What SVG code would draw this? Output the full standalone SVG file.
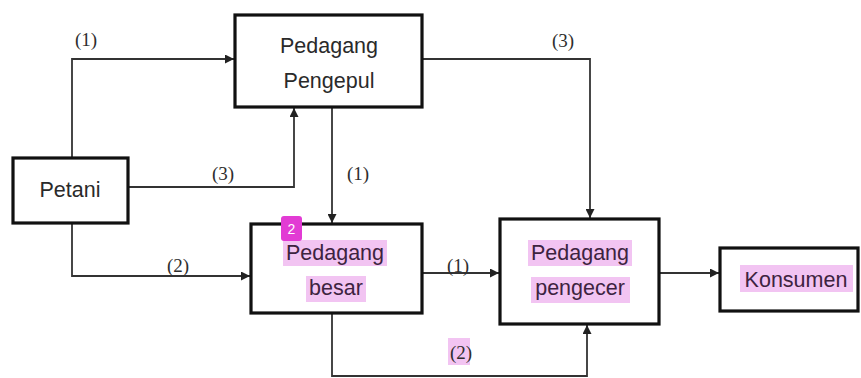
<svg xmlns="http://www.w3.org/2000/svg" width="861" height="378" viewBox="0 0 861 378">
  <style>
    .box { fill: #ffffff; stroke: #111111; stroke-width: 3.2; }
    .name { font-family: "Liberation Sans", Arial, sans-serif; font-size: 21.5px; fill: #2a2a2a; text-anchor: middle; }
    .hl-name { fill: #3d2340; }
    .hl { fill: #f2c4f2; }
    .wire { fill: none; stroke: #333333; stroke-width: 1.8; }
    .tag { font-family: "Liberation Serif", "Times New Roman", serif; font-size: 19px; fill: #2e2e2e; text-anchor: middle; }
    .badge { fill: #e23bd4; }
    .badge-text { font-family: "Liberation Sans", Arial, sans-serif; font-size: 14px; fill: #ffffff; text-anchor: middle; }
  </style>
  <defs>
    <marker id="arrow" viewBox="0 0 10 10" refX="10" refY="5" markerWidth="9" markerHeight="9" markerUnits="userSpaceOnUse" orient="auto">
      <path d="M0,0 L10,5 L0,10 z" fill="#222222"/>
    </marker>
  </defs>

  <rect width="861" height="378" fill="#ffffff"/>

  <!-- connectors -->
  <g id="connectors">
    <path class="wire" d="M72,158 V59 H234" marker-end="url(#arrow)"/>
    <path class="wire" d="M128,187 H294 V108" marker-end="url(#arrow)"/>
    <path class="wire" d="M332,107 V223" marker-end="url(#arrow)"/>
    <path class="wire" d="M422,59 H590 V218" marker-end="url(#arrow)"/>
    <path class="wire" d="M72,223 V276 H250" marker-end="url(#arrow)"/>
    <path class="wire" d="M422,273 H499" marker-end="url(#arrow)"/>
    <path class="wire" d="M332,313 V376 H587 V325" marker-end="url(#arrow)"/>
    <path class="wire" d="M659,273 H719" marker-end="url(#arrow)"/>

    <text class="tag" x="86" y="46">(1)</text>
    <text class="tag" x="223" y="180">(3)</text>
    <text class="tag" x="358" y="180">(1)</text>
    <text class="tag" x="563" y="47">(3)</text>
    <text class="tag" x="178" y="272">(2)</text>
    <text class="tag" x="458" y="272">(1)</text>
    <rect class="hl" x="448" y="338" width="22" height="27"/>
    <text class="tag" x="461" y="359">(2)</text>
  </g>

  <!-- nodes -->
  <g id="petani">
    <rect class="box" x="13" y="158" width="115" height="65"/>
    <text class="name" x="70" y="197">Petani</text>
  </g>

  <g id="pedagang-pengepul">
    <rect class="box" x="235" y="15" width="187" height="92"/>
    <text class="name" x="329" y="53">Pedagang</text>
    <text class="name" x="329" y="88">Pengepul</text>
  </g>

  <g id="pedagang-besar">
    <rect class="box" x="251" y="224" width="171" height="89"/>
    <rect class="hl" x="283" y="240" width="104" height="26"/>
    <rect class="hl" x="306" y="276" width="60" height="26"/>
    <text class="name hl-name" x="335" y="260">Pedagang</text>
    <text class="name hl-name" x="336" y="295">besar</text>
    <rect class="badge" x="281" y="216" width="21" height="25" rx="3"/>
    <text class="badge-text" x="291.5" y="234">2</text>
  </g>

  <g id="pedagang-pengecer">
    <rect class="box" x="500" y="219" width="159" height="105"/>
    <rect class="hl" x="528" y="240" width="104" height="26"/>
    <rect class="hl" x="531" y="277" width="99" height="26"/>
    <text class="name hl-name" x="580" y="260">Pedagang</text>
    <text class="name hl-name" x="580" y="295">pengecer</text>
  </g>

  <g id="konsumen">
    <rect class="box" x="720" y="248" width="138" height="63"/>
    <rect class="hl" x="740" y="265" width="113" height="27"/>
    <text class="name hl-name" x="796" y="287">Konsumen</text>
  </g>
</svg>
